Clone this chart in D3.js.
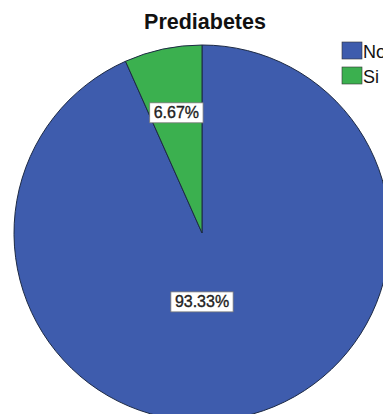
<!DOCTYPE html>
<html>
<head>
<meta charset="utf-8">
<script src="https://cdn.jsdelivr.net/npm/d3@7"></script>
<style>
body{margin:0;background:#fff;}
svg{display:block;font-family:"Liberation Sans",Arial,sans-serif;}
</style>
</head>
<body>
<svg id="chart" width="383" height="414"></svg>
<script>
var categories=["No","Si"];
var values=[93.33,6.67];
var labels=["93.33%","6.67%"];
var colors=["#3e5cad","#3bb04f"];

var width=383,height=414,radius=188,cx=202,cy=233;

var svg=d3.select("#chart");

svg.append("text")
	.attr("x",205).attr("y",29)
	.attr("text-anchor","middle")
	.attr("font-size",21.5).attr("font-weight","bold")
	.attr("fill","#111")
	.text("Prediabetes");

// clockwise from 12 o'clock, so the small slice ends up just left of the top
var pie=d3.pie().sort(null).value(d=>d);
var arcs=pie(values);

var arc=d3.arc().innerRadius(0).outerRadius(radius);

var g=svg.append("g").attr("transform","translate("+cx+","+cy+")");

g.selectAll("path")
	.data(arcs)
	.enter().append("path")
	.attr("d",arc)
	.attr("fill",(d,i)=>colors[i])
	.attr("stroke","#1d2a44")
	.attr("stroke-width",1);

// label radii as fraction of radius; big slice label sits straight under the centre
var labelR=[0.365,0.655];
var labelAngle=[Math.PI,null];
var lab=g.selectAll("g.lab")
	.data(arcs)
	.enter().append("g")
	.attr("class","lab")
	.attr("transform",(d,i)=>{
		var a=labelAngle[i]!==null?labelAngle[i]:(d.startAngle+d.endAngle)/2;
		var r=radius*labelR[i];
		return "translate("+(r*Math.sin(a))+","+(-r*Math.cos(a))+")";
	});

lab.append("text")
	.attr("text-anchor","middle")
	.attr("dy","0.36em")
	.attr("font-size",16)
	.attr("fill","#222")
	.attr("stroke","#222").attr("stroke-width",0.35)
	.text((d,i)=>labels[i]);

lab.each(function(){
	var t=d3.select(this).select("text");
	var b=t.node().getBBox();
	d3.select(this).insert("rect","text")
		.attr("x",b.x-4).attr("y",b.y-1.5)
		.attr("width",b.width+8).attr("height",b.height+3)
		.attr("fill","#fff")
		.attr("stroke","#777").attr("stroke-width",0.8);
});

var legend=svg.append("g").attr("transform","translate(342,42)");
var li=legend.selectAll("g")
	.data(categories)
	.enter().append("g")
	.attr("transform",(d,i)=>"translate(0,"+(i*25)+")");
li.append("rect")
	.attr("width",20).attr("height",17)
	.attr("fill",(d,i)=>colors[i])
	.attr("stroke","#333").attr("stroke-width",0.6);
li.append("text")
	.attr("x",21).attr("y",16)
	.attr("font-size",18)
	.attr("fill","#111")
	.text(d=>d);
</script>
</body>
</html>
